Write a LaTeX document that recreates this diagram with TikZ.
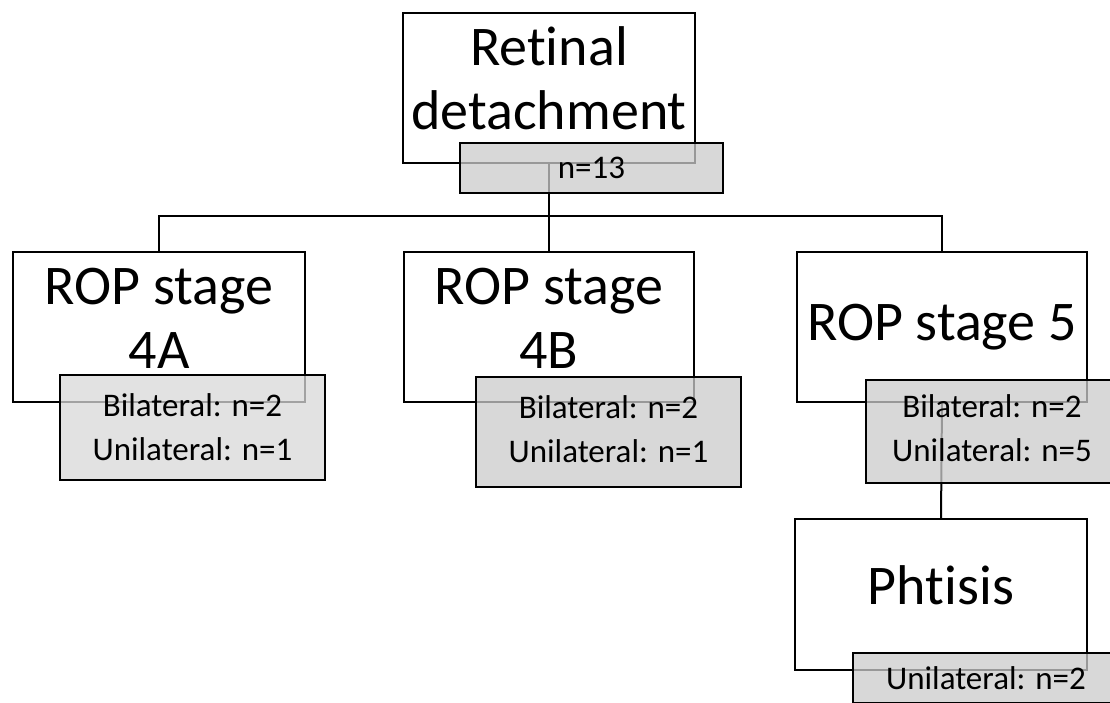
\documentclass[tikz,border=0pt]{standalone}
\usepackage{fontspec}
\setmainfont[Ligatures=NoCommon,RawFeature=-liga]{Carlito}
\begin{document}
\begin{tikzpicture}[x=1pt,y=-1pt,
  line width=2pt,
  bigbox/.style={draw=black, fill=white, rectangle, inner sep=0pt, align=center,
    font=\fontsize{56}{64}\selectfont, minimum width=#1},
  greybox/.style={draw=black, fill=black!20, fill opacity=0.75, text opacity=1,
    draw opacity=1, rectangle, inner sep=0pt, align=center,
    font=\fontsize{33}{44}\selectfont},
  link/.style={draw=black, line width=2pt}
]
\clip (0,0) rectangle (1110,702);
\fill[white] (0,0) rectangle (1110,702);

% white boxes
\node[bigbox=292pt, minimum height=150pt, text depth=20pt] (rd) at (549,88) {Retinal\\detachment};
\node[bigbox=292pt, minimum height=150pt, text depth=18pt] (a4) at (159,327) {ROP stage\\4A};
\node[bigbox=290pt, minimum height=150pt, text depth=18pt] (b4) at (549,327) {ROP stage\\4B};
\node[bigbox=290pt, minimum height=150pt] (s5) at (942,327) {\raisebox{-4pt}{ROP stage 5}};
\node[bigbox=292pt, minimum height=151pt, text depth=18pt] (ph) at (941,594.5) {Phtisis};

% connectors
\draw[link] (rd.south) -- ++(0,52) coordinate (j);
\draw[link] (j) -| (a4.north);
\draw[link] (j) -| (s5.north);
\draw[link] (j) -- (b4.north);
\draw[link] (s5.south) -- (ph.north);

% grey boxes
\node[greybox, minimum width=263pt, minimum height=50pt] (n13) at (591.5,168) {n=13};
\node[greybox, fill=black!15, minimum width=265pt, minimum height=105pt] (g4a) at (192.5,427.5) {Bilateral: n=2\\Unilateral: n=1};
\node[greybox, minimum width=265pt, minimum height=110pt, text depth=5pt] (g4b) at (608.5,432) {Bilateral: n=2\\Unilateral: n=1};
\node[greybox, minimum width=252pt, minimum height=103pt, text depth=6pt] (g5) at (992,431.5) {Bilateral: n=2\\Unilateral: n=5};
\node[greybox, minimum width=266pt, minimum height=50pt] (gph) at (986,678) {Unilateral: n=2};
\end{tikzpicture}
\end{document}
